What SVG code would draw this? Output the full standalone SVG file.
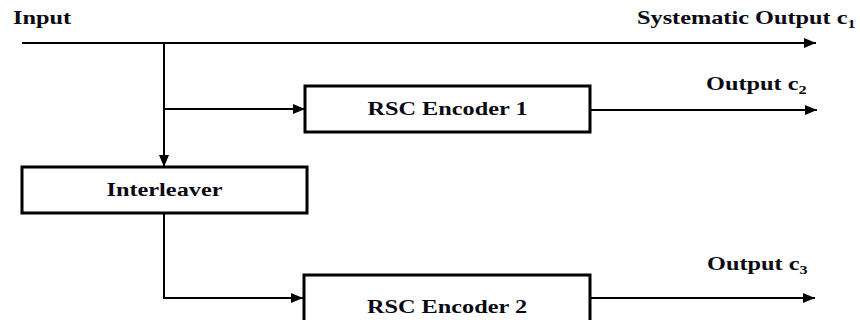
<svg xmlns="http://www.w3.org/2000/svg" width="860" height="320" viewBox="0 0 860 320">
<style>
.t{font-family:"Liberation Serif","Times New Roman",serif;font-weight:bold;font-size:18px;fill:#0a0a14}
.s{font-size:12px}
.box{fill:#fff;stroke:#000;stroke-width:3}
.ln{fill:none;stroke:#000;stroke-width:2}
</style>
<defs>
<marker id="ah" viewBox="0 0 12 10" refX="12" refY="5" markerWidth="12" markerHeight="10" markerUnits="userSpaceOnUse" orient="auto">
<path d="M0,0 L12,5 L0,10 Z" fill="#000"/>
</marker>
</defs>
<g id="connectors">
<line class="ln" x1="22" y1="43" x2="816" y2="43" marker-end="url(#ah)"/>
<line class="ln" x1="164" y1="43" x2="164" y2="167" marker-end="url(#ah)"/>
<line class="ln" x1="164" y1="109" x2="305" y2="109" marker-end="url(#ah)"/>
<line class="ln" x1="590" y1="110" x2="817" y2="110" marker-end="url(#ah)"/>
<polyline class="ln" points="164,213 164,298 303,298" marker-end="url(#ah)"/>
<line class="ln" x1="590" y1="298" x2="815" y2="298" marker-end="url(#ah)"/>
</g>
<g id="labels">
<text class="t" transform="translate(13,24) scale(1.35,1)">Input</text>
<text class="t" transform="translate(637,24) scale(1.35,1)">Systematic Output c<tspan class="s" dy="4">1</tspan></text>
<text class="t" transform="translate(706,90) scale(1.35,1)">Output c<tspan class="s" dy="4">2</tspan></text>
<text class="t" transform="translate(707,270) scale(1.35,1)">Output c<tspan class="s" dy="4">3</tspan></text>
</g>
<g id="enc1">
<rect class="box" x="305" y="86" width="285" height="46"/>
<text class="t" text-anchor="middle" transform="translate(447.5,115) scale(1.35,1)">RSC Encoder 1</text>
</g>
<g id="interleaver">
<rect class="box" x="22" y="167" width="285" height="46"/>
<text class="t" text-anchor="middle" transform="translate(164.5,196) scale(1.35,1)">Interleaver</text>
</g>
<g id="enc2">
<rect class="box" x="304" y="275" width="286" height="60"/>
<text class="t" text-anchor="middle" transform="translate(447,313) scale(1.35,1)">RSC Encoder 2</text>
</g>
</svg>
